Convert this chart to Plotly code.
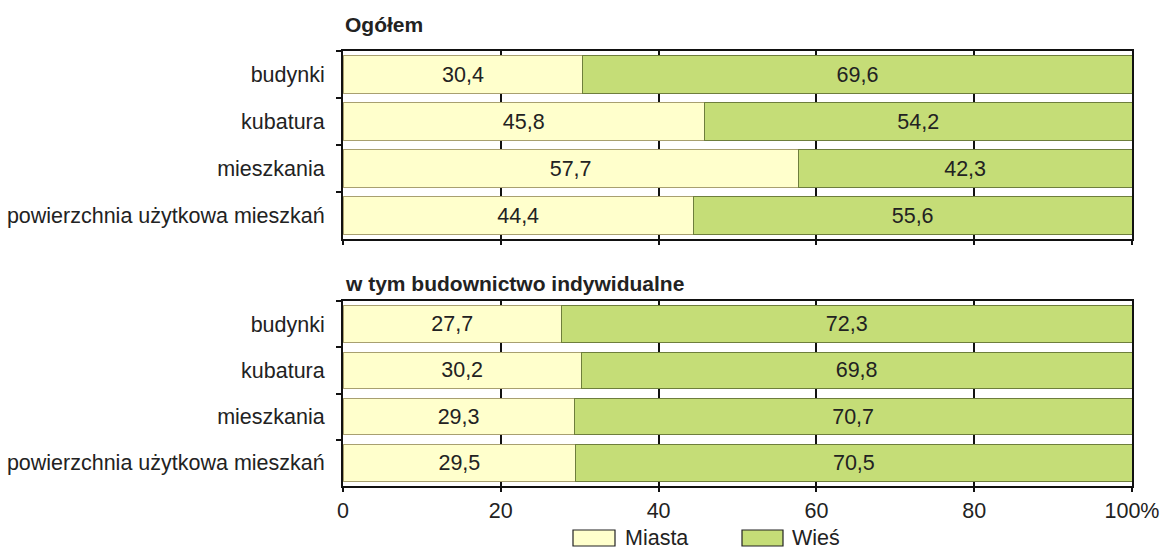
import plotly.graph_objects as go

categories = ["budynki", "kubatura", "mieszkania", "powierzchnia użytkowa mieszkań"]
panel_titles = ["Ogółem", "w tym budownictwo indywidualne"]
series_names = ["Miasta", "Wieś"]
miasta_ogolem = [30.4, 45.8, 57.7, 44.4]
wies_ogolem = [69.6, 54.2, 42.3, 55.6]
miasta_indyw = [27.7, 30.2, 29.3, 29.5]
wies_indyw = [72.3, 69.8, 70.7, 70.5]
x_ticks = [0, 20, 40, 60, 80, 100]
x_tick_labels = ["0", "20", "40", "60", "80", "100%"]

FONT = "Liberation Sans, Arial, sans-serif"
FS = 21.5
C_MIASTA = "#FFFFCC"
C_MIASTA_LINE = "#A8A070"
C_WIES = "#C5DD77"
C_WIES_LINE = "#6E7E3C"
colors = [(C_MIASTA, C_MIASTA_LINE), (C_WIES, C_WIES_LINE)]

fig = go.Figure()

panels = [((miasta_ogolem, wies_ogolem), "x", "y"), ((miasta_indyw, wies_indyw), "x2", "y2")]
for (vals, xa, ya) in panels:
    for name, v, (fc, lc) in zip(series_names, vals, colors):
        fig.add_trace(go.Bar(
            y=categories, x=v, orientation="h", name=name, xaxis=xa, yaxis=ya,
            marker=dict(color=fc, line=dict(color=lc, width=1)),
            text=[f"{t:.1f}".replace(".", ",") for t in v], textposition="inside",
            insidetextanchor="middle", textangle=0,
            textfont=dict(family=FONT, size=FS, color="#222222"),
            showlegend=False, hoverinfo="skip"))

xdom = [343 / 1163, 1132 / 1163]
ydom1 = [1 - 239 / 550, 1 - 51 / 550]
ydom2 = [1 - 486 / 550, 1 - 301 / 550]

xcommon = dict(range=[0, 100], tickvals=x_ticks, ticktext=x_tick_labels,
               showgrid=True, gridcolor="#111111", gridwidth=1.5,
               showline=True, linecolor="#111111", linewidth=2, mirror=True,
               ticks="outside", ticklen=4, tickcolor="#111111", tickwidth=1.5,
               zeroline=False, domain=xdom, fixedrange=True, automargin=False,
               tickfont=dict(family=FONT, size=FS, color="#222222"))
ycommon = dict(autorange="reversed", showgrid=False, showline=True,
               linecolor="#111111", linewidth=2, mirror=True,
               ticks="outside", tickson="boundaries", ticklen=5,
               tickcolor="#111111", tickwidth=1.5, fixedrange=True, automargin=False,
               tickfont=dict(family=FONT, size=FS, color="#222222"),
               ticksuffix="  ")

# custom legend (wide swatches as in the reference)
legend_shapes = []
legend_ann = []
swatches = [(573, 615, 623), (742, 783, 790)]
for name, (fc, lc), (x0, x1, tx) in zip(series_names, colors, swatches):
    legend_shapes.append(dict(type="rect", xref="paper", yref="paper",
                              x0=x0 / 1163, x1=x1 / 1163,
                              y0=1 - 546 / 550, y1=1 - 530 / 550,
                              fillcolor=fc, line=dict(color="#222222", width=1.2)))
    legend_ann.append(dict(text=name, xref="paper", yref="paper", x=tx / 1163,
                           y=1 - 538 / 550, xanchor="left", yanchor="middle",
                           showarrow=False,
                           font=dict(family=FONT, size=FS, color="#222222")))

fig.update_layout(
    barmode="stack", bargap=0.21,
    width=1163, height=550,
    margin=dict(l=0, r=0, t=0, b=0, autoexpand=False),
    paper_bgcolor="white", plot_bgcolor="white",
    font=dict(family=FONT, size=FS, color="#222222"),
    xaxis=dict(**xcommon, anchor="y", showticklabels=False),
    yaxis=dict(**ycommon, domain=ydom1, anchor="x"),
    xaxis2=dict(**xcommon, anchor="y2"),
    yaxis2=dict(**ycommon, domain=ydom2, anchor="x2"),
    showlegend=False,
    shapes=legend_shapes,
    annotations=[
        dict(text="<b>" + panel_titles[0] + "</b>", xref="paper", yref="paper",
             x=343 / 1163, y=1 - 24 / 550, xanchor="left", yanchor="middle",
             showarrow=False, font=dict(family=FONT, size=21, color="#222222")),
        dict(text="<b>" + panel_titles[1] + "</b>", xref="paper", yref="paper",
             x=343 / 1163, y=1 - 283 / 550, xanchor="left", yanchor="middle",
             showarrow=False, font=dict(family=FONT, size=21, color="#222222")),
    ] + legend_ann,
)

fig.write_html("out.html", config={"displayModeBar": False},
               post_script="document.body.style.margin='0';document.body.style.overflow='hidden';")
